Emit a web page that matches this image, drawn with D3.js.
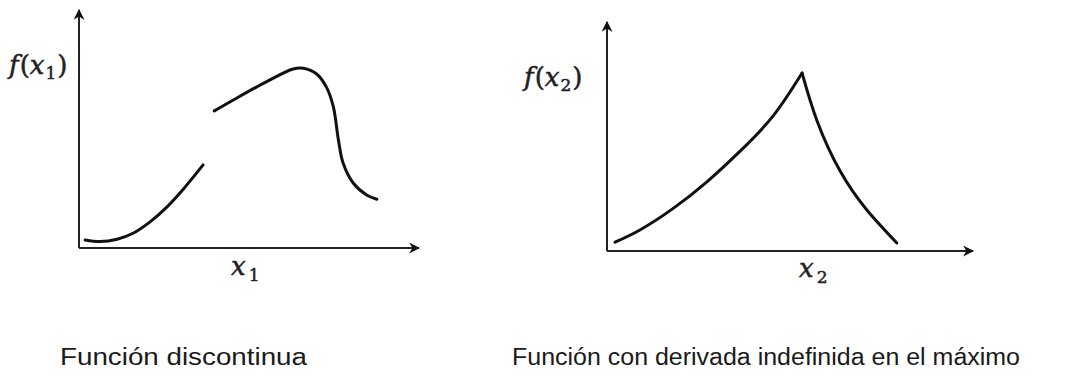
<!DOCTYPE html>
<html>
<head>
<meta charset="utf-8">
<script src="https://cdn.jsdelivr.net/npm/d3@7"></script>
<style>
  body { margin: 0; background: #fff; }
  svg { display: block; }
</style>
</head>
<body>
<div id="chart"></div>
<script>
// curve points (domain 0..10 on both axes)
let left_low_x  = [0.18, 0.62, 1.12, 1.59, 2.09, 2.59, 3.06, 3.65];
let left_low_y  = [0.34, 0.27, 0.37, 0.62, 1.10, 1.73, 2.46, 3.49];
let left_high_x = [3.98, 4.54, 5.52, 6.30, 6.60, 6.99, 7.28, 7.48, 7.63, 7.77, 8.07, 8.46, 8.76];
let left_high_y = [5.76, 6.22, 6.99, 7.52, 7.55, 7.31, 6.75, 5.94, 4.54, 3.56, 2.72, 2.23, 2.05];

let right_up_x   = [0.22, 0.90, 1.80, 2.73, 3.63, 4.54, 5.33];
let right_up_y   = [0.39, 0.92, 1.85, 3.02, 4.35, 5.90, 7.77];
let right_down_x = [5.33, 5.74, 6.37, 7.10, 7.92];
let right_down_y = [7.77, 5.68, 3.49, 1.79, 0.35];

let captions = ["Función discontinua", "Función con derivada indefinida en el máximo"];
let sub_labels = ["1", "2"];

let win_width = 1080, win_height = 376;

let svg = d3.select("#chart")
    .append("svg")
    .attr("width", win_width)
    .attr("height", win_height);

svg.append("defs").append("marker")
    .attr("id", "arrow")
    .attr("viewBox", "0 0 10 10")
    .attr("refX", 9)
    .attr("refY", 5)
    .attr("markerWidth", 5.5)
    .attr("markerHeight", 5.5)
    .attr("markerUnits", "strokeWidth")
    .attr("orient", "auto")
    .append("path")
    .attr("d", "M0,0 L10,5 L0,10 L3,5 Z")
    .attr("fill", "#111");

let zip = function(xs, ys) { return xs.map(function(d, i) { return [d, ys[i]]; }); };

let panels = [
    {x0: 79, x1: 419, y0: 248, y1: 10,
     segs: [[zip(left_low_x, left_low_y), d3.curveCatmullRom], [zip(left_high_x, left_high_y), d3.curveCatmullRom]],
     flab: [9, 74], xlab: [231, 275], cap: [60, 365, 247]},
    {x0: 607, x1: 973, y0: 251, y1: 22,
     segs: [[zip(right_up_x, right_up_y), d3.curveNatural], [zip(right_down_x, right_down_y), d3.curveNatural]],
     flab: [524, 86], xlab: [799, 277], cap: [512, 365, 508]}
];

let serif = "'DejaVu Serif', 'Liberation Serif', serif";

panels.forEach(function(p, i) {
    let x = d3.scaleLinear().domain([0, 10]).range([p.x0, p.x1]);
    let y = d3.scaleLinear().domain([0, 10]).range([p.y0, p.y1]);
    let g = svg.append("g");

    // axes with arrow heads
    g.append("line")
        .attr("x1", x(0)).attr("y1", y(0)).attr("x2", x(10)).attr("y2", y(0))
        .attr("stroke", "#222").attr("stroke-width", 2)
        .attr("marker-end", "url(#arrow)");
    g.append("line")
        .attr("x1", x(0)).attr("y1", y(0)).attr("x2", x(0)).attr("y2", y(10))
        .attr("stroke", "#222").attr("stroke-width", 2)
        .attr("marker-end", "url(#arrow)");

    p.segs.forEach(function(s) {
        g.append("path")
            .datum(s[0])
            .attr("fill", "none")
            .attr("stroke", "#111")
            .attr("stroke-width", 3)
            .attr("stroke-linecap", "round")
            .attr("d", d3.line().curve(s[1])
                .x(function(d) { return x(d[0]); })
                .y(function(d) { return y(d[1]); }));
    });

    // f(x_i) label
    let f = g.append("text")
        .attr("x", p.flab[0]).attr("y", p.flab[1])
        .style("font-family", serif)
        .style("font-size", "26px")
        .attr("fill", "#222")
        .attr("stroke", "#222")
        .attr("stroke-width", 0.5);
    f.append("tspan").style("font-style", "italic").text("f");
    f.append("tspan").attr("dx", 1).text("(");
    f.append("tspan").style("font-style", "italic").text("x");
    f.append("tspan").attr("dx", 1).attr("dy", 5).style("font-size", "17px").text(sub_labels[i]);
    f.append("tspan").attr("dx", 1).attr("dy", -5).text(")");

    // x_i label
    let xl = g.append("text")
        .attr("x", p.xlab[0]).attr("y", p.xlab[1])
        .style("font-family", serif)
        .style("font-size", "26px")
        .attr("fill", "#222")
        .attr("stroke", "#222")
        .attr("stroke-width", 0.5);
    xl.append("tspan").style("font-style", "italic").text("x");
    xl.append("tspan").attr("dx", 3).attr("dy", 6).style("font-size", "17px").text(sub_labels[i]);

    // caption
    g.append("text")
        .attr("x", p.cap[0]).attr("y", p.cap[1])
        .attr("textLength", p.cap[2])
        .attr("lengthAdjust", "spacingAndGlyphs")
        .style("font-family", "'Liberation Sans', Arial, sans-serif")
        .style("font-size", "23px")
        .attr("fill", "#1a1a1a")
        .text(captions[i]);
});
</script>
</body>
</html>
